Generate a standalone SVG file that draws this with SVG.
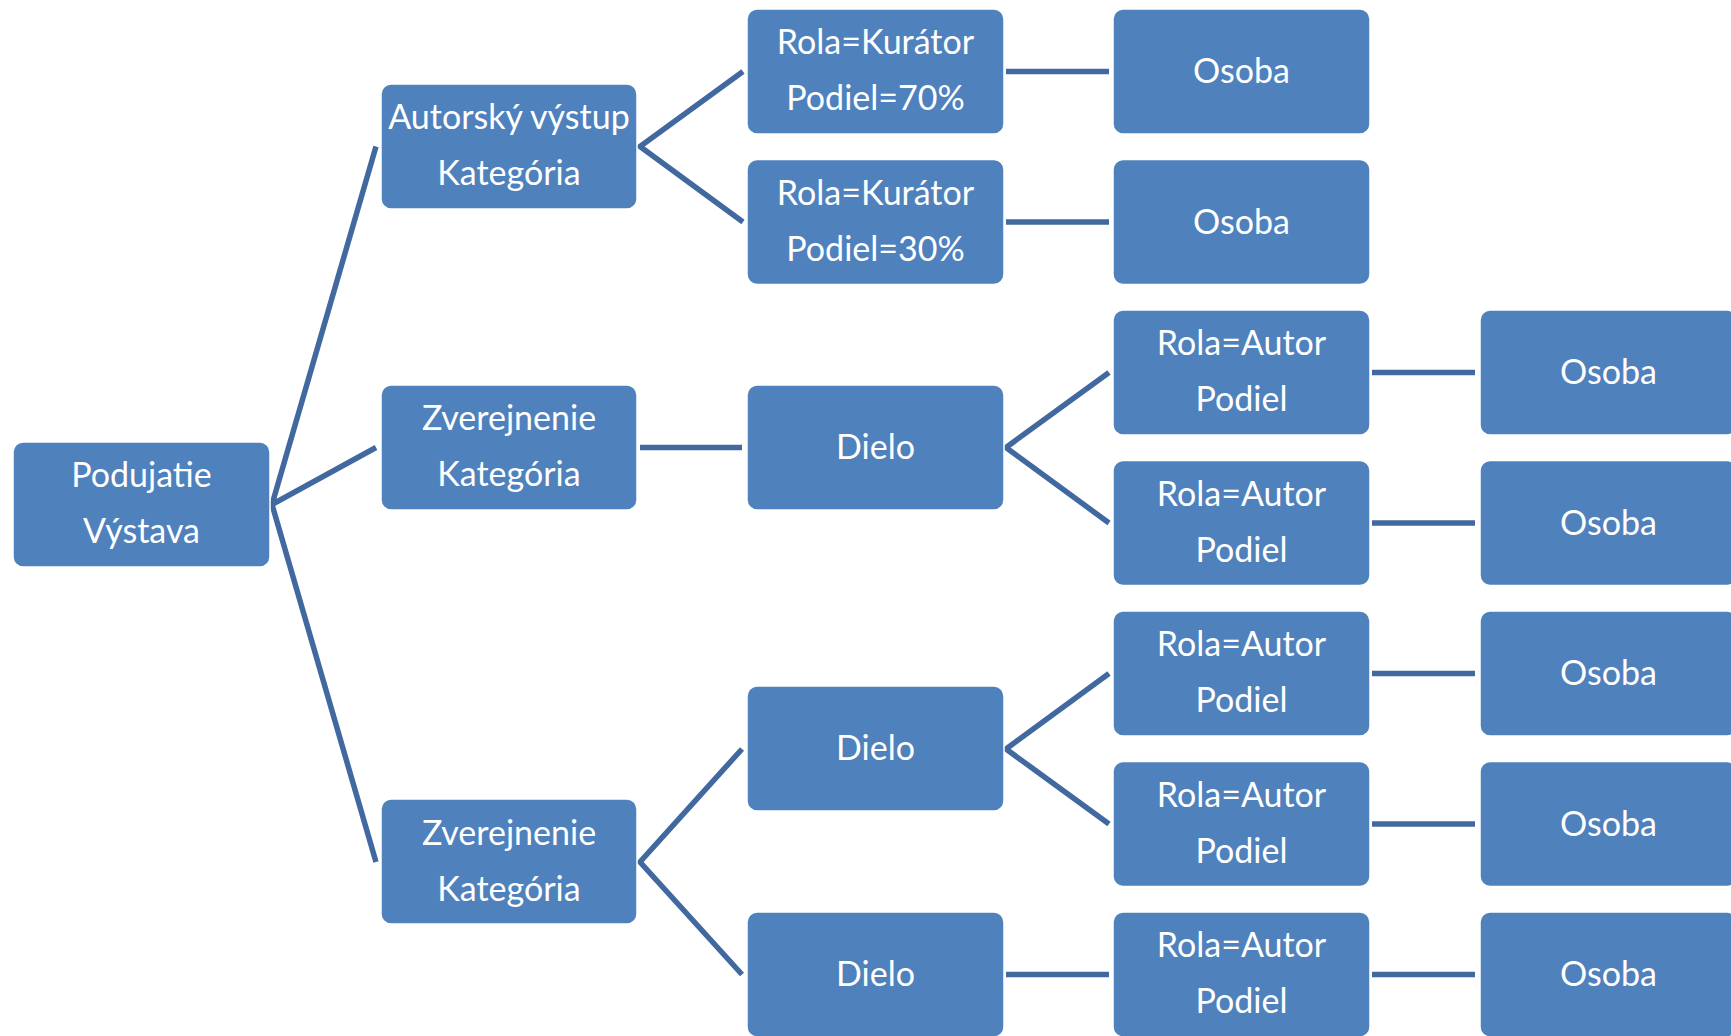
<svg xmlns="http://www.w3.org/2000/svg" width="1731" height="1036" viewBox="0 0 1731 1036">
<style>
.box{fill:#4f81bd;stroke:#ffffff;stroke-width:1.5}
.t{fill:#ffffff;font-family:Lato,"Open Sans","Liberation Sans",sans-serif;font-size:34px;text-anchor:middle}
.c{stroke:#41699f;stroke-width:5.5;fill:none;stroke-linejoin:miter}
</style>
<rect width="1731" height="1036" fill="#ffffff"/>
<g id="connectors">
<path class="c" d="M376,146.5 L272,504.5 L376,447.5 M272,504.5 L376,862"/>
<path class="c" d="M743,71.5 L640,146.5 L743,222"/>
<path class="c" d="M640,447.5 L742,447.5"/>
<path class="c" d="M742,749 L640,862 L742,974.5"/>
<path class="c" d="M1109,372.5 L1006,447.5 L1109,523"/>
<path class="c" d="M1109,673.5 L1006,749 L1109,824"/>
<path class="c" d="M1006,974.5 L1109,974.5"/>
<path class="c" d="M1006,71.5 L1109,71.5 M1006,222 L1109,222"/>
<path class="c" d="M1372,372.5 L1475,372.5 M1372,523 L1475,523 M1372,673.5 L1475,673.5 M1372,824 L1475,824 M1372,974.5 L1475,974.5"/>
</g>
<g id="n1"><rect class="box" x="13" y="442" width="257" height="125" rx="10"/><text class="t" x="141.5" y="486.5">Podujatie</text><text class="t" x="141.5" y="542.5">Výstava</text></g>
<g id="n2"><rect class="box" x="381" y="84" width="256" height="125" rx="10"/><text class="t" x="509" y="129">Autorský výstup</text><text class="t" x="509" y="185">Kategória</text></g>
<g id="n3"><rect class="box" x="381" y="385" width="256" height="125" rx="10"/><text class="t" x="509" y="430">Zverejnenie</text><text class="t" x="509" y="486">Kategória</text></g>
<g id="n4"><rect class="box" x="381" y="799" width="256" height="125" rx="10"/><text class="t" x="509" y="844.5">Zverejnenie</text><text class="t" x="509" y="900.5">Kategória</text></g>
<g id="n5"><rect class="box" x="747" y="9" width="257" height="125" rx="10"/><text class="t" x="875.5" y="54">Rola=Kurátor</text><text class="t" x="875.5" y="110">Podiel=70%</text></g>
<g id="n6"><rect class="box" x="747" y="159.5" width="257" height="125" rx="10"/><text class="t" x="875.5" y="204.5">Rola=Kurátor</text><text class="t" x="875.5" y="260.5">Podiel=30%</text></g>
<g id="n7"><rect class="box" x="747" y="385" width="257" height="125" rx="10"/><text class="t" x="875.5" y="459">Dielo</text></g>
<g id="n8"><rect class="box" x="747" y="686" width="257" height="125" rx="10"/><text class="t" x="875.5" y="760">Dielo</text></g>
<g id="n9"><rect class="box" x="747" y="912" width="257" height="125" rx="10"/><text class="t" x="875.5" y="986">Dielo</text></g>
<g id="n10"><rect class="box" x="1113" y="9" width="257" height="125" rx="10"/><text class="t" x="1241.5" y="83">Osoba</text></g>
<g id="n11"><rect class="box" x="1113" y="159.5" width="257" height="125" rx="10"/><text class="t" x="1241.5" y="233.5">Osoba</text></g>
<g id="n12"><rect class="box" x="1113" y="310" width="257" height="125" rx="10"/><text class="t" x="1241.5" y="355">Rola=Autor</text><text class="t" x="1241.5" y="411">Podiel</text></g>
<g id="n13"><rect class="box" x="1113" y="460.5" width="257" height="125" rx="10"/><text class="t" x="1241.5" y="505.5">Rola=Autor</text><text class="t" x="1241.5" y="561.5">Podiel</text></g>
<g id="n14"><rect class="box" x="1113" y="611" width="257" height="125" rx="10"/><text class="t" x="1241.5" y="656">Rola=Autor</text><text class="t" x="1241.5" y="712">Podiel</text></g>
<g id="n15"><rect class="box" x="1113" y="761.5" width="257" height="125" rx="10"/><text class="t" x="1241.5" y="806.5">Rola=Autor</text><text class="t" x="1241.5" y="862.5">Podiel</text></g>
<g id="n16"><rect class="box" x="1113" y="912" width="257" height="125" rx="10"/><text class="t" x="1241.5" y="957">Rola=Autor</text><text class="t" x="1241.5" y="1013">Podiel</text></g>
<g id="n17"><rect class="box" x="1480" y="310" width="257" height="125" rx="10"/><text class="t" x="1608.5" y="384">Osoba</text></g>
<g id="n18"><rect class="box" x="1480" y="460.5" width="257" height="125" rx="10"/><text class="t" x="1608.5" y="534.5">Osoba</text></g>
<g id="n19"><rect class="box" x="1480" y="611" width="257" height="125" rx="10"/><text class="t" x="1608.5" y="685">Osoba</text></g>
<g id="n20"><rect class="box" x="1480" y="761.5" width="257" height="125" rx="10"/><text class="t" x="1608.5" y="835.5">Osoba</text></g>
<g id="n21"><rect class="box" x="1480" y="912" width="257" height="125" rx="10"/><text class="t" x="1608.5" y="986">Osoba</text></g>
</svg>
